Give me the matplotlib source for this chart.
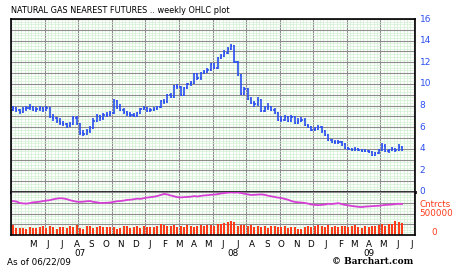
import datetime
import matplotlib
matplotlib.use("Agg")
import matplotlib.pyplot as plt
import matplotlib.dates as mdates
import matplotlib.ticker as mticker
import numpy as np
import pandas as pd

# semanas (lunes) desde 02/04/2007 hasta 22/06/2009
weeks = pd.date_range("2007-04-02", "2009-06-22", freq="W-MON")

opens = [7.6, 7.8, 7.6, 7.4, 7.7, 7.8, 7.9, 7.6, 7.7, 7.8, 7.6, 7.8, 6.9, 6.8, 6.6, 6.4, 6.3, 6.1, 6.3, 6.8,
         6.3, 5.5, 5.4, 5.6, 5.9, 6.6, 7.0, 6.8, 7.1, 7.1, 7.3, 8.4, 7.9, 7.6, 7.4, 7.2, 7.1, 7.0, 7.3, 7.7,
         7.8, 7.5, 7.6, 7.7, 7.9, 8.4, 8.3, 9.0, 8.8, 9.8, 9.7, 9.0, 9.6, 10.0, 10.1, 10.9, 10.5, 11.0, 11.1, 11.3,
         11.8, 11.5, 12.4, 12.6, 12.9, 13.2, 13.5, 12.0, 10.8, 9.1, 9.5, 8.6, 8.2, 8.1, 8.5, 7.5, 7.8, 7.9, 7.6, 7.3,
         6.7, 6.7, 6.9, 6.6, 6.9, 6.4, 6.6, 6.7, 6.2, 6.0, 5.7, 5.8, 6.0, 5.6, 5.3, 4.8, 4.6, 4.6, 4.6, 4.4,
         4.1, 4.0, 3.9, 4.0, 3.9, 3.8, 3.8, 3.7, 3.4, 3.6, 3.9, 4.3, 3.8, 3.9, 4.0, 3.9, 4.2]
highs = [8.0, 7.9, 7.7, 7.9, 8.0, 8.1, 8.0, 7.9, 8.0, 7.9, 8.0, 7.9, 7.2, 6.9, 6.8, 6.6, 6.4, 6.5, 7.0, 7.0,
         6.4, 5.7, 5.8, 6.1, 6.8, 7.2, 7.1, 7.3, 7.4, 7.5, 8.6, 8.5, 8.1, 7.8, 7.5, 7.4, 7.3, 7.4, 7.8, 8.0,
         7.9, 7.8, 7.9, 8.0, 8.5, 8.6, 9.1, 9.2, 9.9, 10.0, 9.8, 9.7, 10.1, 10.3, 11.0, 11.0, 11.1, 11.3, 11.5, 11.9,
         11.9, 12.5, 12.8, 13.1, 13.4, 13.7, 13.6, 12.1, 10.9, 9.7, 9.6, 8.8, 8.4, 8.8, 8.6, 8.0, 8.2, 8.0, 7.8, 7.4,
         7.0, 7.1, 7.0, 7.1, 7.0, 6.8, 6.9, 6.8, 6.3, 6.1, 6.0, 6.2, 6.1, 5.7, 5.4, 4.9, 4.8, 4.8, 4.7, 4.5,
         4.2, 4.1, 4.2, 4.1, 4.0, 4.0, 3.9, 3.8, 3.7, 4.0, 4.5, 4.4, 4.0, 4.2, 4.1, 4.4, 4.3]
lows = [7.5, 7.4, 7.2, 7.3, 7.5, 7.6, 7.5, 7.4, 7.5, 7.4, 7.5, 6.8, 6.6, 6.4, 6.2, 6.1, 5.9, 6.0, 6.2, 6.2,
        5.3, 5.2, 5.3, 5.5, 5.8, 6.5, 6.6, 6.7, 6.9, 7.0, 7.2, 7.7, 7.5, 7.2, 7.0, 6.9, 6.9, 6.9, 7.2, 7.6,
        7.4, 7.4, 7.5, 7.6, 7.8, 8.1, 8.2, 8.7, 8.7, 9.5, 8.9, 8.9, 9.5, 9.8, 10.0, 10.4, 10.4, 10.9, 11.0, 11.2,
        11.4, 11.4, 12.3, 12.5, 12.8, 13.1, 11.9, 10.7, 9.0, 9.0, 8.5, 8.1, 7.9, 8.0, 7.4, 7.4, 7.6, 7.5, 7.2, 6.6,
        6.5, 6.6, 6.5, 6.5, 6.3, 6.3, 6.5, 6.1, 5.9, 5.6, 5.6, 5.7, 5.5, 5.2, 4.7, 4.5, 4.4, 4.4, 4.3, 4.0,
        3.9, 3.8, 3.8, 3.8, 3.7, 3.7, 3.6, 3.3, 3.3, 3.5, 3.8, 3.7, 3.6, 3.8, 3.7, 3.8, 3.8]
closes = [7.8, 7.6, 7.4, 7.7, 7.8, 7.9, 7.6, 7.7, 7.8, 7.6, 7.8, 6.9, 6.8, 6.6, 6.4, 6.3, 6.1, 6.3, 6.8, 6.3,
          5.5, 5.4, 5.6, 5.9, 6.6, 7.0, 6.8, 7.1, 7.1, 7.3, 8.4, 7.9, 7.6, 7.4, 7.2, 7.1, 7.0, 7.3, 7.7, 7.8,
          7.5, 7.6, 7.7, 7.9, 8.4, 8.3, 9.0, 8.8, 9.8, 9.7, 9.0, 9.6, 10.0, 10.1, 10.9, 10.5, 11.0, 11.1, 11.3, 11.8,
          11.5, 12.4, 12.6, 12.9, 13.2, 13.5, 12.0, 10.8, 9.1, 9.5, 8.6, 8.2, 8.1, 8.5, 7.5, 7.8, 7.9, 7.6, 7.3, 6.7,
          6.7, 6.9, 6.6, 6.9, 6.4, 6.6, 6.7, 6.2, 6.0, 5.7, 5.8, 6.0, 5.6, 5.3, 4.8, 4.6, 4.6, 4.6, 4.4, 4.1,
          4.0, 3.9, 4.0, 3.9, 3.8, 3.8, 3.7, 3.4, 3.6, 3.9, 4.3, 3.8, 3.9, 4.0, 3.9, 4.2, 3.9]

# open interest y volumen (miles de contratos)
open_int = [790, 780, 745, 735, 730, 740, 760, 765, 775, 790, 800, 810, 830, 845, 855, 850, 835, 810, 790, 775,
            770, 775, 785, 790, 770, 760, 745, 745, 750, 755, 770, 785, 790, 800, 815, 820, 830, 845, 840, 855,
            870, 880, 890, 905, 930, 955, 945, 920, 900, 880, 875, 880, 885, 890, 905, 895, 910, 920, 925, 935,
            940, 950, 965, 975, 985, 990, 985, 990, 975, 960, 945, 930, 935, 940, 945, 935, 915, 900, 885, 870,
            860, 840, 820, 790, 770, 760, 755, 745, 730, 710, 700, 695, 700, 710, 725, 720, 730, 740, 720, 700,
            690, 675, 665, 655, 650, 660, 665, 670, 675, 680, 690, 700, 705, 710, 720, 725, 720]
volume = [240, 165, 155, 170, 150, 175, 165, 155, 190, 210, 165, 200, 190, 145, 175, 190, 170, 205, 180, 240,
          165, 150, 215, 200, 165, 190, 205, 175, 190, 180, 195, 150, 165, 200, 220, 155, 190, 200, 170, 215,
          190, 175, 195, 205, 250, 230, 220, 200, 240, 180, 215, 195, 230, 215, 190, 220, 225, 200, 230, 240,
          220, 245, 265, 290, 310, 335, 300, 205, 230, 240, 200, 225, 190, 205, 180, 215, 165, 200, 220, 190,
          175, 200, 165, 180, 190, 150, 140, 190, 200, 175, 220, 240, 205, 190, 230, 195, 215, 190, 200, 220,
          180, 205, 230, 190, 165, 205, 190, 220, 200, 230, 245, 220, 265, 250, 335, 305, 275]

month_letters = ["M", "J", "J", "A", "S", "O", "N", "D", "J", "F", "M", "A", "M", "J",
                 "J", "A", "S", "O", "N", "D", "J", "F", "M", "A", "M", "J", "J"]
year_labels = ["07", "08", "09"]
year_pos = ["2007-08-20", "2008-07-04", "2009-04-14"]

blue = "#2b4ff0"
red = "#ff3a1a"
green_minor = "#d2f0d2"
gray_major = "#8c8c8c"

fig = plt.figure(figsize=(4.59, 2.70), dpi=100)
ax = fig.add_axes([11/459, 1 - 192/270, 404/459, 173/270])
ax2 = fig.add_axes([11/459, 1 - 235/270, 404/459, 43/270])

x0 = mdates.date2num(pd.Timestamp("2007-03-29"))
x1 = mdates.date2num(pd.Timestamp("2009-07-19"))
d = mdates.date2num(weeks)

def rejilla(a, ymaj, ymin):
    a.set_xticks(d[0] - 3.5 + 7 * np.arange(0, 120), minor=True)
    a.set_xticks(d[0] + 66.5 + 70 * np.arange(-1, 12))
    a.set_xlim(x0, x1)  # despues de los ticks, si no se expande
    a.yaxis.set_major_locator(mticker.MultipleLocator(ymaj))
    a.yaxis.set_minor_locator(mticker.MultipleLocator(ymin))
    a.grid(True, which="minor", color=green_minor, lw=0.5)
    a.grid(True, which="major", color=gray_major, lw=0.8)
    a.set_axisbelow(True)
    a.tick_params(which="both", length=0, labelbottom=False, labelleft=False)
    for s in a.spines.values():
        s.set_color("black")
        s.set_linewidth(1.2)

# ---- precio ----
ax.vlines(d, lows, highs, color=blue, lw=1.2)
ax.hlines(opens, d - 2.5, d, color=blue, lw=1.2)
ax.hlines(closes, d, d + 2.5, color=blue, lw=1.2)
rejilla(ax, 1, 0.25)
ax.set_ylim(0, 16)
ax.spines["bottom"].set_linewidth(2.2)
ax.spines["bottom"].set_color("#333333")
for p in range(0, 17, 2):
    ax.text(1.012, p / 16, str(p), transform=ax.transAxes, color=blue,
            fontsize=6.5, va="center", ha="left")
ax.text(0, 1.025, "NATURAL GAS NEAREST FUTURES .. weekly OHLC plot", transform=ax.transAxes,
        fontsize=5.9, ha="left", va="bottom")

# ---- open interest / volumen ----
ax2.bar(d, volume, width=4.2, color=red, zorder=2)
ax2.plot(d, open_int, color="#d63fd6", lw=1.3, zorder=3)
rejilla(ax2, 250, 62.5)
ax2.set_ylim(0, 1000)
ax2.spines["top"].set_visible(False)
ax2.text(1.01, 0.70, "Cntrcts", transform=ax2.transAxes, color=red, fontsize=6.3, va="center")
ax2.text(1.01, 0.51, "500000", transform=ax2.transAxes, color=red, fontsize=6.3, va="center")
ax2.text(1.04, 0.05, "0", transform=ax2.transAxes, color=red, fontsize=6.3, va="center")

# etiquetas de meses
meses = pd.date_range("2007-05-01", periods=len(month_letters), freq="MS") + pd.Timedelta(days=12)
for m, lab in zip(meses, month_letters):
    ax2.text(mdates.date2num(m), -0.12, lab, transform=ax2.get_xaxis_transform(),
             fontsize=6.3, ha="center", va="top")
for ys, lab in zip(year_pos, year_labels):
    ax2.text(mdates.date2num(pd.Timestamp(ys)), -0.33, lab, transform=ax2.get_xaxis_transform(),
             fontsize=6.3, ha="center", va="top")

fig.text(7/459, 1 - 262/270, "As of 06/22/09", fontsize=6.3, va="center", ha="left")
fig.text(413/459, 1 - 262/270, "\u00a9 Barchart.com", fontsize=6.5, va="center", ha="right",
         family="DejaVu Serif", weight="bold")

plt.savefig("out.png", dpi=100)
